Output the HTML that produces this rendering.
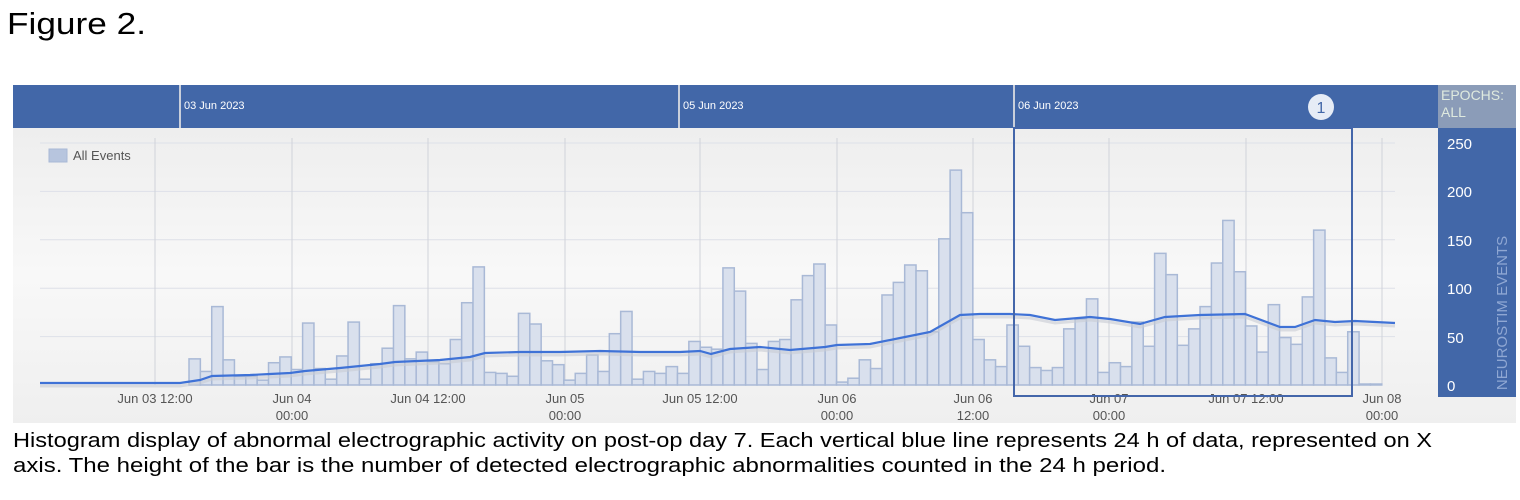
<!DOCTYPE html>
<html><head><meta charset="utf-8"><style>
html,body{margin:0;padding:0;background:#fff;width:1520px;height:500px;overflow:hidden}
svg{display:block}
text{font-family:"Liberation Sans",sans-serif}
</style></head><body>
<svg id="s" width="1520" height="500" xmlns="http://www.w3.org/2000/svg">
<defs><linearGradient id="bg" x1="0" y1="0" x2="0" y2="1"><stop offset="0" stop-color="#eeeeee"/><stop offset="0.5" stop-color="#f8f8f8"/><stop offset="1" stop-color="#efefef"/></linearGradient></defs>
<text x="7" y="34" font-size="31" fill="#000" textLength="139" lengthAdjust="spacingAndGlyphs">Figure 2.</text>
<rect x="13" y="128" width="1503" height="295" fill="url(#bg)"/>
<g id="grid" stroke="#dde0e8" stroke-width="1"></g>
<g id="bars" fill="#d9e0ed" stroke="#a9b9d6" stroke-width="1.5"></g>
<polyline fill="none" stroke="#c8ccd4" stroke-width="3" opacity="0.6" transform="translate(0,3)" points="40,383 180,383 200,380 212,376 250,375 270,374 290,373 305,371 340,368 350,367 380,364 395,362 440,360 470,357 485,353 520,352 560,352 600,351 640,352 680,352 700,351 711,354 730,349 760,347 790,350 825,347 837,345 870,344 900,338 915,335 930,332 960,315 980,314 1010,314 1030,315 1055,320 1090,317 1110,319 1140,324 1165,317 1200,315 1245,314 1280,327 1295,327 1315,320 1335,322 1355,321 1395,323"/>
<polyline fill="none" stroke="#3f72d6" stroke-width="2.2" points="40,383 180,383 200,380 212,376 250,375 270,374 290,373 305,371 340,368 350,367 380,364 395,362 440,360 470,357 485,353 520,352 560,352 600,351 640,352 680,352 700,351 711,354 730,349 760,347 790,350 825,347 837,345 870,344 900,338 915,335 930,332 960,315 980,314 1010,314 1030,315 1055,320 1090,317 1110,319 1140,324 1165,317 1200,315 1245,314 1280,327 1295,327 1315,320 1335,322 1355,321 1395,323"/>
<rect x="49" y="149" width="18" height="13" fill="#b7c5de" stroke="#a9b9d6"/>
<text x="73" y="160" font-size="13" fill="#555">All Events</text>
<g font-size="13" fill="#555" text-anchor="middle">
<text x="155" y="403">Jun 03 12:00</text>
<text x="292" y="403">Jun 04</text><text x="292" y="420">00:00</text>
<text x="428" y="403">Jun 04 12:00</text>
<text x="565" y="403">Jun 05</text><text x="565" y="420">00:00</text>
<text x="700" y="403">Jun 05 12:00</text>
<text x="837" y="403">Jun 06</text><text x="837" y="420">00:00</text>
<text x="973" y="403">Jun 06</text><text x="973" y="420">12:00</text>
<text x="1109" y="403">Jun 07</text><text x="1109" y="420">00:00</text>
<text x="1246" y="403">Jun 07 12:00</text>
<text x="1382" y="403">Jun 08</text><text x="1382" y="420">00:00</text>
</g>
<rect x="13" y="85" width="1425" height="43" fill="#4267a8"/>
<rect x="179" y="85" width="2" height="43" fill="#c9cfdb"/>
<rect x="678" y="85" width="2" height="43" fill="#c9cfdb"/>
<rect x="1013" y="85" width="2" height="43" fill="#c9cfdb"/>
<g font-size="11" fill="#fff"><text x="184" y="109">03 Jun 2023</text><text x="683" y="109">05 Jun 2023</text><text x="1018" y="109">06 Jun 2023</text></g>
<rect x="1014" y="128" width="338" height="268" fill="none" stroke="#4466aa" stroke-width="2"/>
<circle cx="1321" cy="107" r="13" fill="#e6ecf6"/>
<text x="1321" y="113" font-size="16" fill="#4267a8" text-anchor="middle">1</text>
<rect x="1438" y="85" width="78" height="43" fill="#8b9cb8"/>
<rect x="1438" y="128" width="78" height="269" fill="#4267a8"/>
<g font-size="14" fill="#dfeadf"><text x="1441" y="100">EPOCHS:</text><text x="1441" y="117">ALL</text></g>
<g font-size="15" fill="#fff">
<text x="1447" y="149">250</text><text x="1447" y="197">200</text><text x="1447" y="246">150</text><text x="1447" y="294">100</text><text x="1447" y="343">50</text><text x="1447" y="391">0</text>
</g>
<text transform="translate(1507,313) rotate(-90)" font-size="15" fill="#8fa7d3" text-anchor="middle">NEUROSTIM EVENTS</text>
<g font-size="20" fill="#000"><text x="13" y="447" textLength="1419" lengthAdjust="spacingAndGlyphs">Histogram display of abnormal electrographic activity on post-op day 7. Each vertical blue line represents 24 h of data, represented on X</text>
<text x="13" y="472" textLength="1153" lengthAdjust="spacingAndGlyphs">axis. The height of the bar is the number of detected electrographic abnormalities counted in the 24 h period.</text></g>
</svg>
<script>
var NS="http://www.w3.org/2000/svg";
var g=document.getElementById("grid");
[50,100,150,200,250].forEach(function(v){var l=document.createElementNS(NS,"line");var y=385-v*0.968;l.setAttribute("x1",40);l.setAttribute("x2",1395);l.setAttribute("y1",y);l.setAttribute("y2",y);g.appendChild(l);});
[155,292,428,565,700,837,973,1109,1246,1382].forEach(function(x){var l=document.createElementNS(NS,"line");l.setAttribute("x1",x);l.setAttribute("x2",x);l.setAttribute("y1",138);l.setAttribute("y2",385);l.setAttribute("stroke","#d0d3da");g.appendChild(l);});
var v=[27,14,81,26,9,9,5,23,29,16,64,17,6,30,65,6,22,38,82,27,34,24,22,47,85,122,
13,12,9,74,63,25,21,5,12,31,14,53,76,6,14,12,19,12,45,39,37,121,97,43,
16,45,47,88,113,125,62,3,7,26,17,93,106,124,118,55,151,222,178,47,26,19,
62,40,18,15,18,58,68,89,13,23,19,65,40,136,114,41,58,81,126,170,117,61,34,83,49,42,91,160,28,13,55,1,1];
var b=document.getElementById("bars");
v.forEach(function(val,i){var r=document.createElementNS(NS,"rect");var h=val*0.968;var x=189+i*11.36;r.setAttribute("x",x);r.setAttribute("width",11.36);r.setAttribute("y",385-h);r.setAttribute("height",h);b.appendChild(r);});
</script>
</body></html>
